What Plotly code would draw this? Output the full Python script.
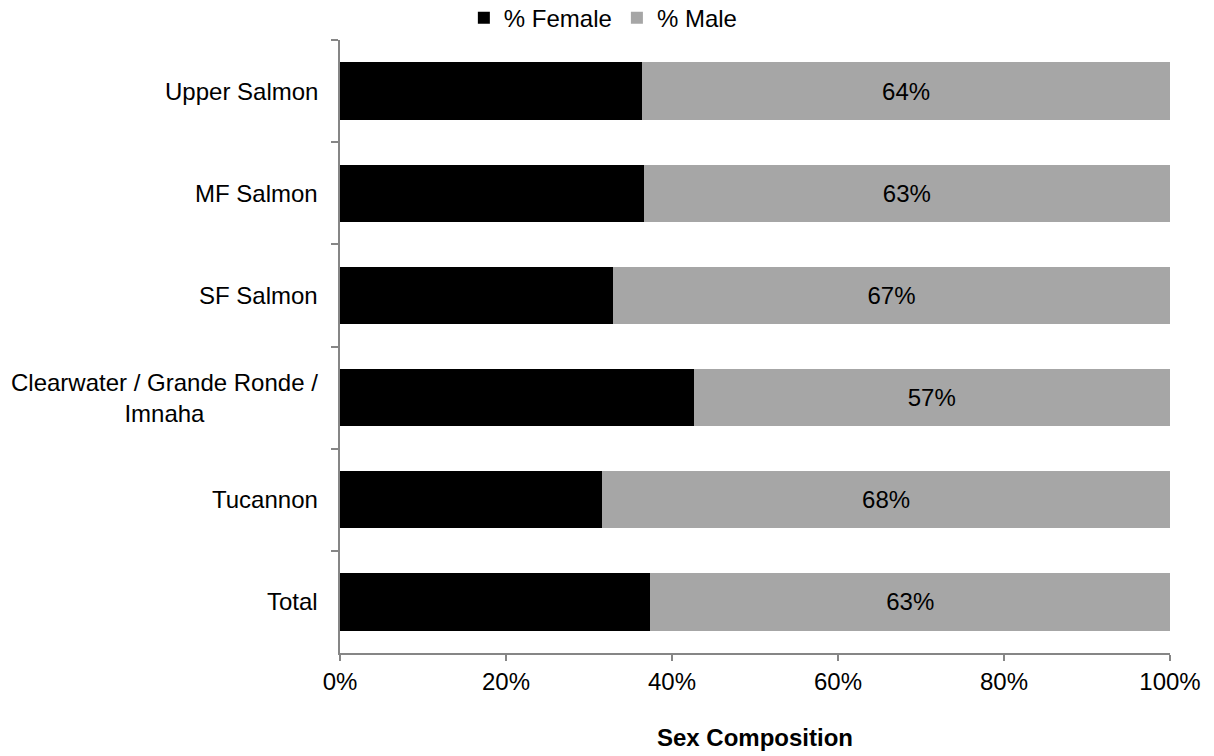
import plotly.graph_objects as go

# Sex composition by population group (percent of fish)
groups = ["Upper Salmon", "MF Salmon", "SF Salmon",
          "Clearwater / Grande Ronde / Imnaha", "Tucannon", "Total"]
group_labels = ["Upper Salmon", "MF Salmon", "SF Salmon",
                "Clearwater / Grande Ronde /<br>Imnaha", "Tucannon", "Total"]
pct_female = [36.4, 36.6, 32.9, 42.6, 31.6, 37.4]
pct_male = [63.6, 63.4, 67.1, 57.4, 68.4, 62.6]
x_ticks = [0, 20, 40, 60, 80, 100]
x_tick_text = [f"{v}%" for v in x_ticks]

FONT = "Liberation Sans, Arial, sans-serif"
FS = 24
AXIS_GREY = "#868686"

fig = go.Figure()
fig.add_trace(go.Bar(
    name="% Female", y=groups, x=pct_female, orientation="h",
    marker=dict(color="#000000", line=dict(width=0)),
))
fig.add_trace(go.Bar(
    name="% Male", y=groups, x=pct_male, orientation="h",
    marker=dict(color="#a6a6a6", line=dict(width=0)),
    texttemplate="%{x:.0f}%", textposition="inside",
    insidetextanchor="middle", constraintext="none",
    textfont=dict(family=FONT, size=FS, color="#000000"),
))

# Category labels drawn as centred annotations so wrapped lines stay centred
for g, lab in zip(groups, group_labels):
    fig.add_annotation(
        x=0, xref="paper", y=g, yref="y", text=lab, showarrow=False,
        xanchor="right", yanchor="middle", xshift=-20, align="center",
        font=dict(family=FONT, size=FS, color="#000000"),
    )

fig.update_layout(
    width=1214, height=756,
    barmode="stack", bargap=0.44,
    paper_bgcolor="white", plot_bgcolor="white",
    margin=dict(l=340, r=44, t=40, b=103, autoexpand=False),
    font=dict(family=FONT, size=FS, color="#000000"),
    showlegend=True,
    legend=dict(
        orientation="h", xref="container", yref="container",
        x=0.497, xanchor="center", y=0.976, yanchor="middle",
        font=dict(family=FONT, size=FS, color="#000000"),
        itemwidth=30, traceorder="normal", bgcolor="rgba(0,0,0,0)",
    ),
    xaxis=dict(
        range=[0, 100], tickmode="array", tickvals=x_ticks,
        ticktext=x_tick_text,
        showgrid=False, zeroline=False,
        showline=True, linecolor=AXIS_GREY, linewidth=1.5,
        ticks="outside", ticklen=6, tickwidth=1.5, tickcolor=AXIS_GREY,
        tickfont=dict(family=FONT, size=FS, color="#000000"),
        title=dict(text="<b>Sex Composition</b>", standoff=36,
                   font=dict(family=FONT, size=FS, color="#000000")),
    ),
    yaxis=dict(
        categoryorder="array", categoryarray=groups, autorange="reversed",
        showticklabels=False, showgrid=False, zeroline=False,
        showline=True, linecolor=AXIS_GREY, linewidth=1.5,
        ticks="outside", ticklen=7, tickwidth=1.5, tickcolor=AXIS_GREY,
        tickson="boundaries",
    ),
)

fig.write_html("out.html")
